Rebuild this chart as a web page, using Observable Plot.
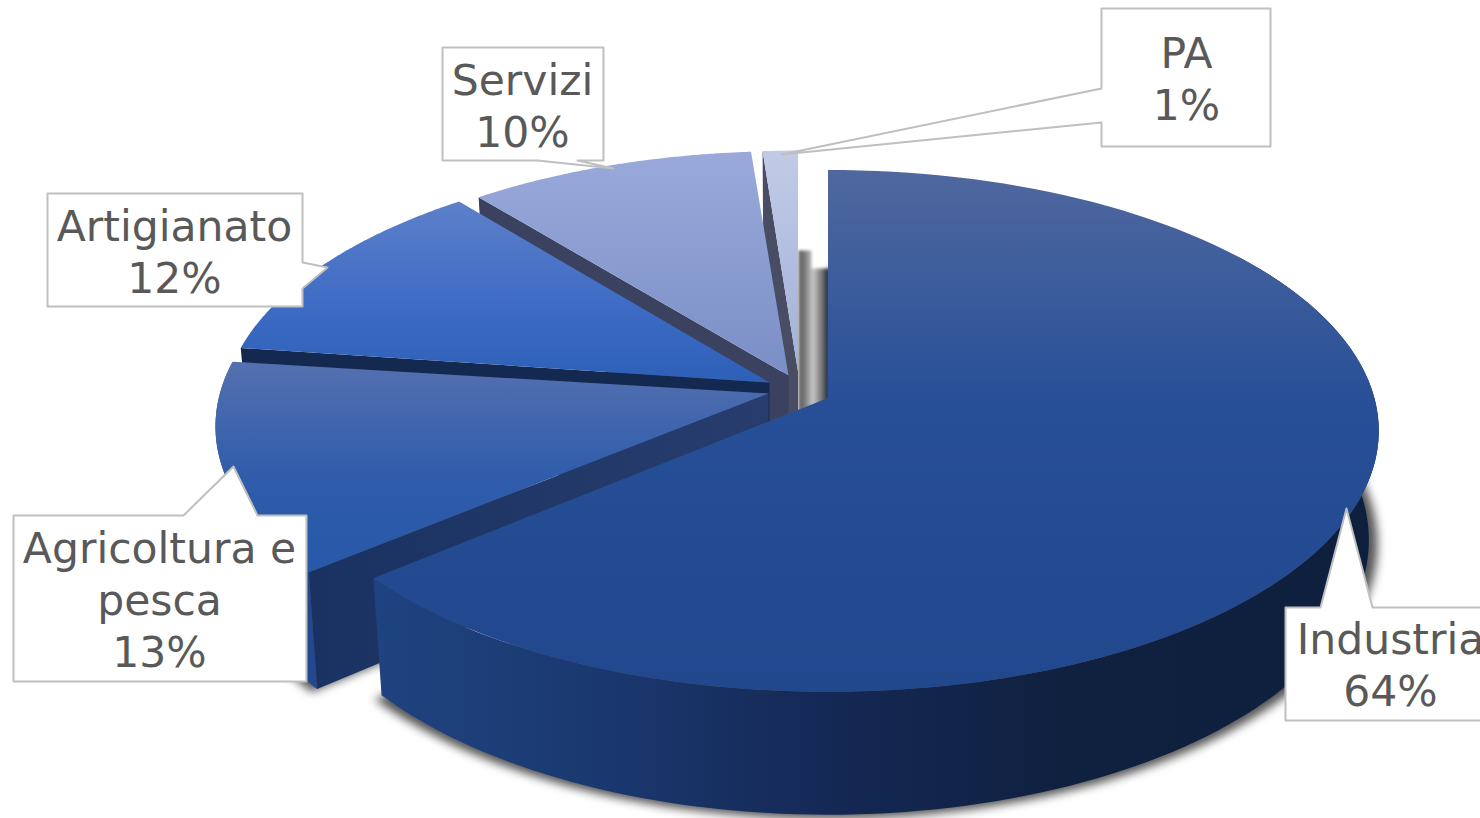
<!DOCTYPE html>
<html>
<head>
<meta charset="utf-8">
<style>html,body{margin:0;padding:0;background:#fff;overflow:hidden}</style>
<script src="https://cdn.jsdelivr.net/npm/d3@7"></script>
<script src="https://cdn.jsdelivr.net/npm/@observablehq/plot@0.6"></script>
</head>
<body>
<div id="chart"></div>
<script>
const categories = ["Industria", "Agricoltura e pesca", "Artigianato", "Servizi", "PA"];
const labelLines = ["Industria", "Agricoltura e\npesca", "Artigianato", "Servizi", "PA"];
const shares = [63.85, 13.15, 12.2, 9.55, 1.25];

// Layout of the exploded perspective disc
const R = 548.6, B = 257.8, K = 0.126;          // disc radius, depth and perspective
const H = 107.5, KX = 0.982, KY = 0.0526;       // extrusion
const apexes = [[827.5, 397.5], [768, 393], [769, 382], [788, 375], [797.5, 371]];
const scales = [0.996, 1, 0.99, 0.98, 0.965];
const startNudge = [0, 0.15, 0.2, -0.1, 0.05];  // small angular corrections from the exploded view

const cum = d3.cumsum(shares);
const starts = shares.map((_, i) => (i ? cum[i - 1] : 0) + startNudge[i]);
const ends = [...cum];

const rim = (i, pct) => {
  const t = pct / 100 * 2 * Math.PI, u = Math.sin(t), v = -Math.cos(t), s = 1 / (1 - K * v);
  const [ax, ay] = apexes[i];
  return [ax + R * u * s * scales[i], ay + B * v * s * scales[i]];
};
const drop = (i, p) => {
  const [ax, ay] = apexes[i];
  return [ax + (p[0] - ax) * KX, p[1] + H + (p[1] - ay) * KY];
};
const arc = (i, a, b) => d3.range(0, 121).map(k => rim(i, a + (b - a) * k / 120));
const topFace = i => [apexes[i], ...arc(i, starts[i], ends[i])];
const rimWall = (i, a, b) => { const t = arc(i, a, b); return [...t, ...t.map(p => drop(i, p)).reverse()]; };
const cutFace = (i, pct) => { const p = rim(i, pct), A = apexes[i]; return [A, p, drop(i, p), drop(i, A)]; };
const bottomShape = (i, gx, dy) => {
  const A = drop(i, apexes[i]);
  return [A, ...arc(i, starts[i], ends[i]).map(p => drop(i, p)).map(p => [A[0] + (p[0] - A[0]) * gx, p[1] + dy])];
};

const poly = (pts, fill, extra = {}) =>
  Plot.line(pts, {x: d => d[0], y: d => d[1], fill, stroke: "none", curve: "linear-closed", ...extra});

// Gradients
const linear = (id, axis, a, b, stops) => {
  const coords = axis === "y" ? `x1="0" x2="0" y1="${a}" y2="${b}"` : `y1="0" y2="0" x1="${a}" x2="${b}"`;
  return `<linearGradient id="${id}" gradientUnits="userSpaceOnUse" ${coords}>` +
    stops.map(([o, c]) => `<stop offset="${o}" stop-color="${c}"/>`).join("") + `</linearGradient>`;
};
const defsMark = () => {
  const g = document.createElementNS("http://www.w3.org/2000/svg", "defs");
  g.innerHTML = [
    linear("gInd", "y", 168, 692, [[0, "#50689e"], [0.22, "#3c5c9c"], [0.45, "#274f97"], [1, "#21478d"]]),
    linear("gAgr", "y", 360, 575, [[0, "#5570b0"], [0.55, "#2f5cab"], [1, "#2858a8"]]),
    linear("gArt", "y", 203, 380, [[0, "#5d80c9"], [0.55, "#3f6cc5"], [1, "#2e60b8"]]),
    linear("gSer", "y", 152, 375, [[0, "#9aa9da"], [1, "#7a8fc7"]]),
    linear("gPA", "y", 150, 372, [[0, "#c1cbe6"], [1, "#a3b1d8"]]),
    linear("gWall", "x", 375, 1300, [[0, "#1f4380"], [0.25, "#1a386f"], [0.5, "#142854"], [0.75, "#10203f"], [1, "#0f203f"]]),
    linear("gCut", "x", 308, 770, [[0, "#193261"], [1, "#283d6e"]]),
    linear("gCol", "x", 798, 827, [[0, "#5c5c5c"], [0.2, "#777"], [0.5, "#c8c8c8"], [0.9, "#5a5a5a"], [1, "#1a2a4a"]])
  ].join("");
  return g;
};

// Callouts
const callouts = [
  [[1285, 607], [1320, 607], [1346, 508], [1372, 607], [1500, 607], [1500, 720], [1285, 720]],
  [[13, 515], [183, 515], [233, 466], [257, 515], [306, 515], [306, 681], [13, 681]],
  [[47, 193], [302, 193], [302, 262], [327, 267], [302, 288], [302, 306], [47, 306]],
  [[442, 47], [603, 47], [603, 160], [577, 160], [613, 168], [537, 160], [442, 160]],
  [[1101, 8], [1270, 8], [1270, 146], [1101, 146], [1101, 122], [781, 154], [1101, 88]]
];
const labelAt = [[1390, 663], [159, 598], [174, 250], [522, 104], [1186, 77]];
const labels = categories.map((c, i) => ({text: `${labelLines[i]}\n${Math.round(shares[i])}%`, x: labelAt[i][0], y: labelAt[i][1]}));

const columns = [[798, 250], [811, 250], [811, 268], [829, 268], [829, 430], [798, 430]];

const chart = Plot.plot({
  width: 1480, height: 818, margin: 0,
  x: {domain: [0, 1480], range: [0, 1480], axis: null},
  y: {domain: [0, 818], range: [0, 818], axis: null},
  style: {background: "#fff"},
  marks: [
    defsMark,
    // soft shadows on the ground
    poly(bottomShape(1, 1.012, 3), "#555", {imageFilter: "blur(5px)"}),
    poly(bottomShape(0, 1.016, 4), "#555", {imageFilter: "blur(5px)"}),
    poly(columns, "url(#gCol)", {imageFilter: "blur(1.5px)"}),
    // PA
    poly(cutFace(4, starts[4]), "#484d63"),
    poly(topFace(4), "url(#gPA)"),
    // Servizi
    poly(cutFace(3, starts[3]), "#3a4260"),
    poly(topFace(3), "url(#gSer)"),
    // Artigianato
    poly(cutFace(2, starts[2]), "#14294f"),
    poly(topFace(2), "url(#gArt)"),
    // Agricoltura e pesca
    poly(rimWall(1, starts[1], ends[1]), "#23488f"),
    poly(cutFace(1, starts[1]), "url(#gCut)"),
    poly(topFace(1), "url(#gAgr)"),
    // Industria
    poly(rimWall(0, starts[0] + 15, ends[0]), "url(#gWall)"),
    poly(topFace(0), "url(#gInd)"),
    // labels
    ...callouts.map(c => Plot.line(c, {x: d => d[0], y: d => d[1], fill: "#fff", stroke: "#bfbfbf", strokeWidth: 2, curve: "linear-closed"})),
    Plot.text(labels, {x: "x", y: "y", text: "text", fontSize: 42.5, lineHeight: 1.223, fill: "#595959", textAnchor: "middle", fontFamily: "DejaVu Sans"})
  ]
});
document.getElementById("chart").append(chart);
</script>
</body>
</html>
